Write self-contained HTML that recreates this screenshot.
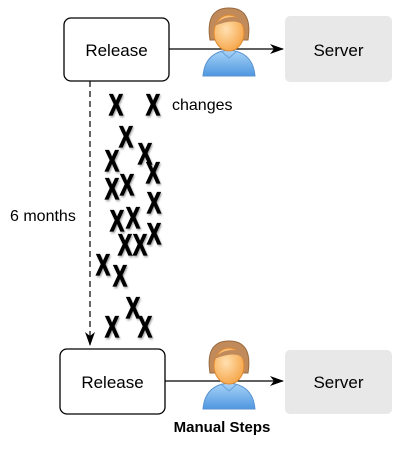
<!DOCTYPE html><html><head><style>body{margin:0;background:#fff}</style></head><body>
<svg width="400" height="448" xmlns="http://www.w3.org/2000/svg" font-family="Liberation Sans, sans-serif">
<defs>
<marker id="a" markerWidth="14" markerHeight="10" refX="13" refY="5" orient="auto" markerUnits="userSpaceOnUse"><path d="M0,0 L14,5 L0,10 L4,5z" fill="#000"/></marker>
<filter id="s"><feDropShadow dx="1.5" dy="1.5" stdDeviation="1" flood-opacity="0.35"/></filter>
<linearGradient id="sh" x1="0" y1="0" x2="0" y2="1"><stop offset="0" stop-color="#a8d4f8"/><stop offset="1" stop-color="#4f97e0"/></linearGradient>
<radialGradient id="fc" cx="0.4" cy="0.4" r="0.7"><stop offset="0" stop-color="#ffe0b0"/><stop offset="1" stop-color="#f5a040"/></radialGradient>
<g id="p"><path d="M-26,68 Q-24,44 0,42 Q24,44 26,68 Z" fill="url(#sh)" stroke="#5b93d0"/><path d="M-8,43 L0,50 L8,43" fill="none" stroke="#6aa0d8"/><path d="M-19,32 Q-24,0 0,0 Q24,0 19,32 Z" fill="#c08a5a" stroke="#9a6a40"/><ellipse cx="0" cy="25" rx="15" ry="18" fill="url(#fc)" stroke="#e08a30"/><path d="M-15,18 Q-6,6 12,10 Q16,14 16,20 Q10,8 -15,18z" fill="#c08a5a"/></g>
</defs>
<rect x="64" y="18" width="105" height="63" rx="7" fill="#fff" stroke="#000" stroke-width="1.3"/>
<text x="116.5" y="56" font-size="17" text-anchor="middle">Release</text>
<rect x="285" y="16" width="107" height="66" rx="5" fill="#e8e8e8"/>
<text x="338.5" y="56" font-size="17" text-anchor="middle">Server</text>
<line x1="169" y1="49" x2="283" y2="49" stroke="#000" stroke-width="1.3" marker-end="url(#a)"/>
<use href="#p" x="229" y="8"/>
<rect x="60" y="349" width="105" height="65" rx="7" fill="#fff" stroke="#000" stroke-width="1.3"/>
<text x="112.5" y="388" font-size="17" text-anchor="middle">Release</text>
<rect x="285" y="350" width="107" height="64" rx="5" fill="#e8e8e8"/>
<text x="338.5" y="388" font-size="17" text-anchor="middle">Server</text>
<line x1="165" y1="381" x2="283" y2="381" stroke="#000" stroke-width="1.3" marker-end="url(#a)"/>
<use href="#p" x="229" y="341"/>
<line x1="90" y1="81" x2="90" y2="345" stroke="#000" stroke-width="1.2" stroke-dasharray="6,4" marker-end="url(#a)"/>
<text x="10" y="221" font-size="16">6 months</text>
<text x="172" y="110" font-size="16">changes</text>
<text x="222" y="432" font-size="15" font-weight="bold" text-anchor="middle">Manual Steps</text>
<g font-size="30" font-weight="bold" text-anchor="middle" filter="url(#s)" stroke="#000" stroke-width="1.2" transform="scale(0.7,1)">
<text x="165.7" y="115">X</text><text x="218.6" y="115">X</text><text x="180" y="147">X</text>
<text x="160" y="171">X</text><text x="207.1" y="164">X</text><text x="218.6" y="183">X</text>
<text x="160" y="199">X</text><text x="181.4" y="195">X</text><text x="220" y="213">X</text>
<text x="167.1" y="231">X</text><text x="190" y="228">X</text><text x="178.6" y="255">X</text>
<text x="200" y="255">X</text><text x="220" y="244">X</text><text x="147.1" y="275">X</text>
<text x="171.4" y="286">X</text><text x="190" y="318">X</text><text x="160" y="337">X</text>
<text x="207.1" y="337">X</text>
</g>
</svg>
</body></html>
